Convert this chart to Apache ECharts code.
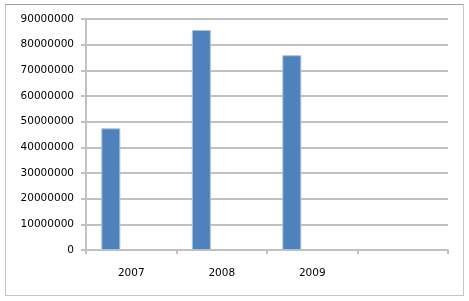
<!DOCTYPE html>
<html>
<head>
<meta charset="utf-8">
<script src="https://cdn.jsdelivr.net/npm/echarts@6/dist/echarts.min.js"></script>
<style>
html,body{margin:0;padding:0;background:#fff;}
#c{width:469px;height:301px;}
</style>
</head>
<body>
<div id="c"></div>
<script>
var categories = ['2007', '2008', '2009', ''];
var values = [47400000, 85700000, 75900000, null];
var emptySeries = [null, null, null, null];
var yMin = 0, yMax = 90000000, yStep = 10000000;

var chart = echarts.init(document.getElementById('c'), null, {renderer: 'canvas'});
var font = 'DejaVu Sans';
chart.setOption({
  animation: false,
  backgroundColor: '#fff',
  graphic: [
    {type: 'rect', shape: {x: 5.5, y: 4.5, width: 458, height: 291},
     style: {fill: null, stroke: '#8a8a8a', lineWidth: 1, lineDash: [1, 1]}, z: 100},
    {type: 'line', shape: {x1: 5, y1: 4.5, x2: 463, y2: 4.5},
     style: {stroke: '#a0a0a0', lineWidth: 1}, z: 101}
  ],
  grid: {left: 86, right: 21, top: 19, bottom: 51, containLabel: false},
  xAxis: {
    type: 'category',
    data: categories,
    boundaryGap: true,
    axisLine: {show: true, lineStyle: {color: '#c0c0c0', width: 2}},
    axisTick: {show: true, length: 4, lineStyle: {color: '#c0c0c0', width: 2}},
    axisLabel: {color: '#000', fontFamily: font, fontSize: 10.5, margin: 18}
  },
  yAxis: {
    type: 'value',
    min: yMin, max: yMax, interval: yStep,
    axisLine: {show: true, lineStyle: {color: '#c0c0c0', width: 2}},
    axisTick: {show: true, length: 5, lineStyle: {color: '#c0c0c0', width: 2}},
    splitLine: {show: true, lineStyle: {color: '#c0c0c0', width: 2}},
    axisLabel: {color: '#000', fontFamily: font, fontSize: 10.5, margin: 12,
      formatter: function (v) { return String(v); }}
  },
  series: [
    {type: 'bar', data: values, barWidth: 19, barGap: '115%',
     itemStyle: {color: '#4f81bd', borderColor: '#a9c2e0', borderWidth: 1}},
    {type: 'bar', data: emptySeries, barWidth: 19}
  ]
});
</script>
</body>
</html>
